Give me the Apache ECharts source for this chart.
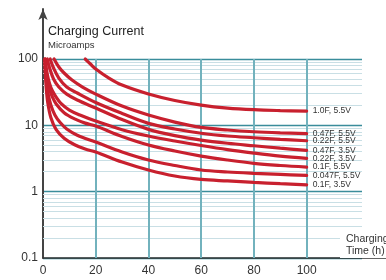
<!DOCTYPE html>
<html>
<head>
<meta charset="utf-8">
<script src="https://cdn.jsdelivr.net/npm/echarts@6/dist/echarts.min.js"></script>
<style>
html, body { margin: 0; padding: 0; background: #fff; }
#chart { width: 386px; height: 280px; }
</style>
</head>
<body>
<div id="chart"></div>
<script>
// charging time (h) vs charging current (microamps)
const xTicks = [0, 20, 40, 60, 80, 100];
const gridHours = [20, 40, 60, 80, 100];
const minorLevels = [0.2, 0.3, 0.4, 0.5, 0.6, 0.7, 0.8, 0.9,
  2, 3, 4, 5, 6, 7, 8, 9,
  20, 30, 40, 50, 60, 70, 80, 90];

const cap10F55 = [[16, 100], [18, 84], [20, 70.6], [25, 51.6], [30, 40.5], [40, 29.7], [50, 23.7],
  [60, 20.2], [70, 18.2], [80, 17.2], [90, 16.7], [100, 16.4]];
const cap047F55 = [[4.2, 100], [6, 75.7], [8, 61.5], [11, 48.2], [15, 37.8], [20, 29.6], [30, 19.5],
  [40, 14.3], [50, 11.2], [60, 9.3], [70, 8.5], [80, 8.0], [90, 7.7], [100, 7.5]];
const cap022F55 = [[2.7, 100], [4, 73.1], [6, 51.6], [9, 37.8], [13, 30.7], [20, 22.1], [30, 15.1],
  [40, 10.7], [50, 8.8], [60, 7.6], [70, 6.9], [80, 6.5], [90, 6.15], [100, 5.86]];
const cap047F35 = [[1.6, 100], [2.5, 73.1], [4, 49.9], [6, 37.8], [9, 29.6], [13, 24.1], [20, 18.2],
  [30, 12.2], [40, 8.7], [50, 7.0], [60, 6.0], [70, 5.37], [80, 4.92], [90, 4.52], [100, 4.2]];
const cap022F35 = [[0.85, 100], [1.3, 70], [2, 50], [3, 37], [4.5, 28.6], [7, 21], [10, 17], [14, 14.3],
  [20, 11.6], [30, 8.6], [40, 6.9], [50, 5.8], [60, 4.96], [70, 4.3], [80, 3.82], [90, 3.44], [100, 3.18]];
const cap01F55 = [[0.8, 100], [1.1, 70], [1.6, 50], [2.4, 36], [3.5, 27], [5, 21], [8, 15.5], [12, 12.5],
  [16, 10.8], [20, 9.76], [30, 6.78], [40, 5.05], [50, 4.1], [60, 3.44], [70, 3.0], [80, 2.67], [90, 2.48], [100, 2.35]];
const cap0047F55 = [[0.75, 100], [1, 62], [1.4, 42], [2, 29], [3, 20], [4.5, 14.3], [6.5, 11], [9, 8.8],
  [13, 7.1], [20, 5.6], [30, 3.96], [40, 3.0], [50, 2.48], [60, 2.12], [70, 1.98], [80, 1.89], [90, 1.82], [100, 1.76]];
const cap01F35 = [[0.7, 100], [0.9, 60], [1.2, 38], [1.8, 22], [3, 13], [5, 8.6], [8, 6.4], [12, 5.1],
  [16, 4.4], [20, 3.96], [30, 2.79], [40, 2.12], [50, 1.72], [60, 1.53], [70, 1.45], [80, 1.38], [90, 1.32], [100, 1.27]];

const curves = [
  ['1.0F, 5.5V', cap10F55],
  ['0.47F, 5.5V', cap047F55],
  ['0.22F, 5.5V', cap022F55],
  ['0.47F, 3.5V', cap047F35],
  ['0.22F, 3.5V', cap022F35],
  ['0.1F, 5.5V', cap01F55],
  ['0.047F, 5.5V', cap0047F55],
  ['0.1F, 3.5V', cap01F35]
];

const font = 'Liberation Sans, Arial, sans-serif';
const red = '#c8202e';
const chart = echarts.init(document.getElementById('chart'));

const curveSeries = curves.map(([name, data]) => ({
  name,
  type: 'line',
  data,
  smooth: 0.35,
  showSymbol: false,
  clip: false,
  z: 5,
  lineStyle: { color: red, width: 3.2, cap: 'round' },
  endLabel: {
    show: true,
    formatter: p => p.seriesName,
    fontSize: 8.5,
    color: '#333',
    distance: 6
  }
}));

chart.setOption({
  animation: false,
  textStyle: { fontFamily: font },
  title: [
    {
      text: 'Charging Current', subtext: 'Microamps',
      left: 48, top: 25, padding: 0, itemGap: 2,
      textStyle: { fontSize: 12.5, fontWeight: 'normal', color: '#222' },
      subtextStyle: { fontSize: 9.5, color: '#333' }
    },
    {
      text: 'Charging\nTime (h)',
      left: 340, top: 232, padding: [1, 0, 1, 6], backgroundColor: '#fff',
      textStyle: { fontSize: 10.5, fontWeight: 'normal', color: '#333', lineHeight: 12 }
    }
  ],
  grid: [
    { left: 43, right: 24, top: 59, bottom: 22 },
    { left: 43, right: 0, top: 9, bottom: 22 }
  ],
  xAxis: [
    {
      type: 'value', gridIndex: 0, min: 0, max: 121, interval: 20,
      axisLine: { show: false }, axisTick: { show: false }, splitLine: { show: false },
      axisLabel: {
        margin: 7, fontSize: 12, color: '#333',
        formatter: v => xTicks.indexOf(v) >= 0 ? String(v) : ''
      }
    },
    {
      type: 'value', gridIndex: 1, min: 0, max: 1,
      axisLine: { show: true, onZero: false, lineStyle: { color: '#333', width: 1.5 } },
      axisTick: { show: false }, axisLabel: { show: false }, splitLine: { show: false }
    }
  ],
  yAxis: [
    {
      type: 'log', logBase: 10, min: 0.1, max: 100, gridIndex: 0,
      axisLine: { show: false }, axisTick: { show: false },
      axisLabel: { margin: 5, fontSize: 12, color: '#333' },
      splitLine: { show: true, lineStyle: { color: '#3a8d9b', width: 1.3 } }
    },
    {
      type: 'value', gridIndex: 1, min: 0, max: 1,
      axisLine: {
        show: true, onZero: false, symbol: ['none', 'arrow'], symbolSize: [7, 11],
        lineStyle: { color: '#444', width: 2 }
      },
      axisTick: { show: false }, axisLabel: { show: false }, splitLine: { show: false }
    }
  ],
  series: [
    {
      type: 'line', data: [], silent: true, z: 1,
      markLine: {
        silent: true, symbol: 'none', label: { show: false },
        lineStyle: { color: '#c9dfe5', width: 1, type: 'solid' },
        data: minorLevels.map(v => ({ yAxis: v }))
      }
    },
    {
      type: 'line', data: [], silent: true, z: 2,
      markLine: {
        silent: true, symbol: 'none', label: { show: false },
        lineStyle: { color: '#72b2bd', width: 2, type: 'solid' },
        data: gridHours.map(h => ({ xAxis: h }))
      }
    }
  ].concat(curveSeries)
});
</script>
</body>
</html>
